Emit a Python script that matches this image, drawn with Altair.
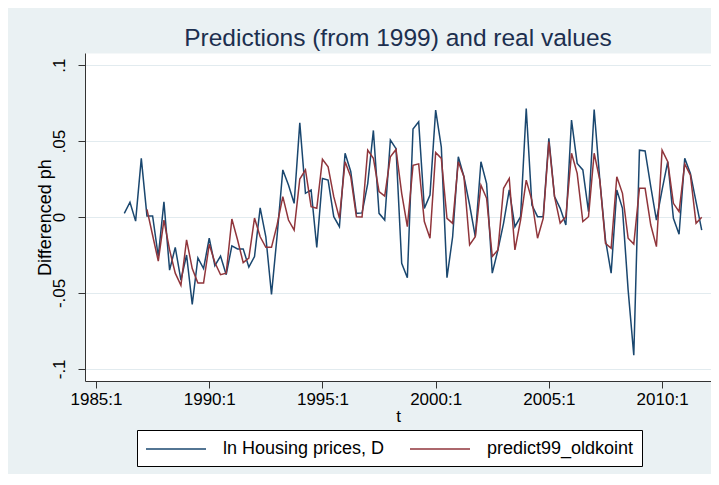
import altair as alt
import pandas as pd

# quarterly index t (Stata %tq: 1960q1 = 0)
blue_start = 105  # 1986q2
blue_vals = [
    0.0024, 0.0097, -0.0027, 0.0386, 0.0007, 0.0007, -0.026, 0.010, -0.035, -0.020,
    -0.0415, -0.025, -0.0575, -0.027, -0.034, -0.014, -0.032, -0.0257, -0.038, -0.019,
    -0.021, -0.021, -0.033, -0.026, 0.006, -0.013, -0.051, -0.012, 0.031, 0.021,
    0.009, 0.062, 0.0156, 0.0178, -0.020, 0.0254, 0.0243, 0.0002, -0.0064, 0.042,
    0.030, 0.0024, 0.0027, 0.022, 0.057, 0.0024, -0.002, 0.0507, 0.045, -0.0305,
    -0.040, 0.058, 0.0627, 0.0057, 0.0145, 0.0704, 0.046, -0.040, -0.013, 0.0397,
    0.0265, 0.0079, -0.013, 0.0364, 0.022, -0.037, -0.0217, -0.004, 0.0178, -0.0064,
    0.0002, 0.0715, 0.0079, 0.0002, 0.0002, 0.0518, 0.0134, 0.0057, -0.0053, 0.0638,
    0.0353, 0.031, 0.0035, 0.0708, 0.0243, -0.015, -0.037, 0.0178, 0.0057, -0.048,
    -0.091, 0.044, 0.0435, 0.020, -0.002, 0.0178, 0.0364, -0.0009, -0.0114, 0.0386,
    0.0287, 0.010, -0.0086,
]

red_start = 109  # 1987q2
red_vals = [
    0.005, -0.012, -0.029, -0.002, -0.0217, -0.037, -0.045, -0.015, -0.034, -0.0435,
    -0.0435, -0.018, -0.030, -0.038, -0.037, -0.0013, -0.015, -0.030, -0.027, -0.0007,
    -0.013, -0.020, -0.020, -0.005, 0.0134, -0.002, -0.0086, 0.025, 0.031, 0.0068,
    0.0057, 0.038, 0.033, 0.0134, -0.0009, 0.0364, 0.0265, 0.0002, 0.0, 0.044,
    0.0386, 0.0167, 0.0138, 0.0397, 0.0445, 0.0156, -0.0064, 0.034, 0.035, -0.003,
    -0.014, 0.0425, 0.0386, -0.0009, -0.0042, 0.0364, 0.0265, -0.0184, -0.013, 0.021,
    0.0123, -0.026, -0.0217, 0.0189, 0.0254, -0.0217, -0.002, 0.0243, 0.011, -0.014,
    -0.0009, 0.0496, 0.0134, -0.004, 0.0002, 0.042, 0.0287, -0.003, 0.0002, 0.042,
    0.0243, -0.0173, -0.0206, 0.0265, 0.0156, -0.014, -0.0178, 0.0189, 0.0189, -0.0053,
    -0.0195, 0.044, 0.0364, 0.009, 0.0035, 0.0349, 0.0276, -0.0042, -0.0002,
]

series_names = ["ln Housing prices, D", "predict99_oldkoint"]
series_colors = ["#1a476f", "#90353b"]
x_ticks = [1985, 1990, 1995, 2000, 2005, 2010]
y_ticks = [-0.1, -0.05, 0, 0.05, 0.1]

rows = []
for i, v in enumerate(blue_vals):
    t = blue_start + i
    rows.append({"year": 1960 + t / 4.0, "value": v, "series": series_names[0]})
for i, v in enumerate(red_vals):
    t = red_start + i
    rows.append({"year": 1960 + t / 4.0, "value": v, "series": series_names[1]})
df = pd.DataFrame(rows)

FONT = "Liberation Sans"

chart = alt.Chart(df).mark_line(strokeWidth=1.5, clip=True).encode(
    x=alt.X(
        "year:Q",
        scale=alt.Scale(domain=[1984.514, 2012.16], nice=False, zero=False),
        axis=alt.Axis(
            values=x_ticks,
            labelExpr="datum.value + ':1'",
            title="t",
            grid=False,
            tickSize=7,
            labelPadding=3,
            titleY=35,
            titleBaseline="middle",
        ),
    ),
    y=alt.Y(
        "value:Q",
        scale=alt.Scale(domain=[-0.108, 0.108], nice=False, zero=False),
        axis=alt.Axis(
            values=y_ticks,
            labelExpr="replace(toString(datum.value), '0.', '.')",
            labelAngle=-90,
            labelAlign="center",
            labelBaseline="bottom",
            labelPadding=10,
            title="Differenced ph",
            titleFontSize=18,
            titleX=-40,
            titleY=164,
            titleAngle=-90,
            titleAlign="center",
            titleBaseline="middle",
            grid=True,
            gridColor="#e2ebef",
            gridWidth=1,
            tickSize=7,
        ),
    ),
    color=alt.Color(
        "series:N",
        sort=series_names,
        scale=alt.Scale(domain=series_names, range=series_colors),
        legend=alt.Legend(
            title=None,
            orient="none",
            legendX=52,
            legendY=377,
            direction="horizontal",
            columns=2,
            symbolType="M-3,0H3",
            symbolSize=400,
            symbolOffset=20,
            symbolStrokeWidth=1.5,
            labelFontSize=18,
            labelFont=FONT,
            labelColor="#000000",
            labelOffset=36,
            labelBaseline="middle",
            columnPadding=22,
            padding=8,
            strokeColor="#000000",
            fillColor="#ffffff",
            labelLimit=300,
        ),
    ),
).properties(
    width=626,
    height=328,
    autosize=alt.AutoSizeParams(type="none"),
    padding={"left": 77, "top": 45, "right": 0, "bottom": 93},
    background="#eaf1f3",
    title=alt.TitleParams(
        text="Predictions (from 1999) and real values",
        fontSize=24.5,
        font=FONT,
        fontWeight="normal",
        color="#1c2f4f",
        anchor="middle",
        baseline="alphabetic",
        offset=8,
        dy=25,
    ),
).configure_view(
    fill="#ffffff",
    stroke="transparent",
).configure_axis(
    labelFont=FONT,
    titleFont=FONT,
    labelFontSize=17,
    titleFontSize=17,
    titleFontWeight="normal",
    labelColor="#000000",
    titleColor="#000000",
    domainColor="#333333",
    tickColor="#333333",
    domainWidth=1,
    tickWidth=1,
)

chart.save("out.html", embed_options={"renderer": "svg", "actions": False})
